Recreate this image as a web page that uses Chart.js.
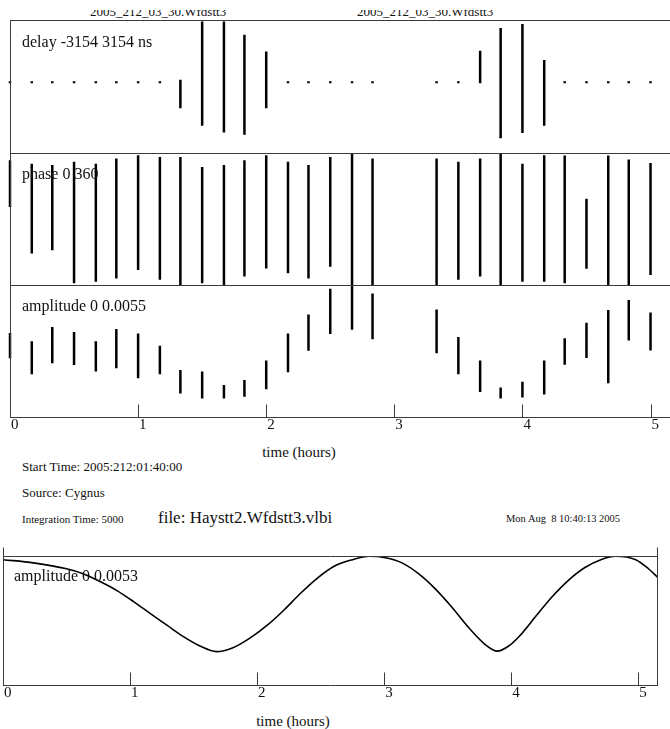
<!DOCTYPE html>
<html>
<head>
<meta charset="utf-8">
<title>Haystt2.Wfdstt3.vlbi</title>
<script src="https://cdn.jsdelivr.net/npm/chart.js@4.4.1/dist/chart.umd.min.js"></script>
<style>
  html, body { margin: 0; padding: 0; background: #fff; }
  body { position: relative; width: 670px; height: 729px; overflow: hidden;
         font-family: "Liberation Serif", "DejaVu Serif", serif; color: #111; }
  canvas { position: absolute; }
  .txt { position: absolute; white-space: pre; line-height: 1; }
  .mid { transform: translateX(-50%); }
  .clipTop { position: absolute; left: 0; top: 10px; width: 670px; height: 10px; overflow: hidden; }
</style>
</head>
<body>

<div class="clipTop">
  <div class="txt" style="left:90px; top:-5px; font-size:13px;">2005_212_03_30.Wfdstt3</div>
  <div class="txt" style="left:357px; top:-5px; font-size:13px;">2005_212_03_30.Wfdstt3</div>
</div>

<canvas id="delayChart" width="663" height="133" style="left:7px; top:20px;"></canvas>
<canvas id="phaseChart" width="663" height="132" style="left:7px; top:153px;"></canvas>
<canvas id="ampChart" width="663" height="155" style="left:7px; top:285px;"></canvas>
<canvas id="modelChart" width="655" height="162" style="left:3px; top:546px;"></canvas>

<div class="txt" style="left:22px; top:34px; font-size:16px;">delay -3154 3154 ns</div>
<div class="txt" style="left:22px; top:166px; font-size:16px;">phase 0 360</div>
<div class="txt" style="left:22px; top:298px; font-size:16px;">amplitude 0 0.0055</div>
<div class="txt mid" style="left:299px; top:445px; font-size:15px;">time (hours)</div>

<div class="txt" style="left:22px; top:460px; font-size:13px;">Start Time: 2005:212:01:40:00</div>
<div class="txt" style="left:22px; top:486px; font-size:13px;">Source: Cygnus</div>
<div class="txt" style="left:22px; top:514px; font-size:11px;">Integration Time: 5000</div>
<div class="txt" style="left:158px; top:509px; font-size:17px;">file: Haystt2.Wfdstt3.vlbi</div>
<div class="txt" style="left:506px; top:514px; font-size:10.5px;">Mon Aug  8 10:40:13 2005</div>

<div class="txt" style="left:14px; top:568px; font-size:16px;">amplitude 0 0.0053</div>
<div class="txt mid" style="left:293px; top:714px; font-size:15px;">time (hours)</div>

<script>
// scan start times (hours from 2005:212:01:40:00), one scan every 10 min
const scanHours = [0.00, 0.17, 0.33, 0.50, 0.67, 0.83, 1.00, 1.17, 1.33, 1.50,
                   1.67, 1.83, 2.00, 2.17, 2.33, 2.50, 2.67, 2.83,
                   3.33, 3.50, 3.67, 3.83, 4.00, 4.17, 4.33, 4.50, 4.67, 4.83, 5.00];

// delay spread within each scan (ns)
const delayLow  = [150, 150, 150, 150, 150, 150, 150, 150, -1030, -1860,
                   -2180, -2290, -1030, 150, 150, 150, 150, 150,
                   150, 150, 160, -2450, -2210, -1860, 150, 150, 150, 150, 150];
const delayHigh = [250, 250, 250, 250, 250, 250, 250, 250, 320, 3080,
                   3080, 2450, 1660, 250, 250, 250, 250, 250,
                   250, 250, 1700, 2770, 2970, 1260, 250, 250, 250, 250, 250];

// phase spread within each scan (deg)
const phaseLow  = [213, 86, 95, 5, 9, 18, 41, 14, 0, 5,
                   0, 23, 45, 32, 18, 50, 0, 0,
                   0, 14, 23, 0, 9, 9, 5, 44, 0, 0, 27];
const phaseHigh = [340, 331, 327, 336, 331, 345, 354, 349, 349, 322,
                   327, 340, 354, 336, 327, 349, 360, 345,
                   345, 336, 345, 360, 331, 354, 353, 235, 353, 342, 333];

// amplitude spread within each scan
const ampLow  = [0.00247, 0.00181, 0.00226, 0.00219, 0.00192, 0.00206, 0.00164, 0.00181, 0.00101, 0.00081,
                 0.00081, 0.00088, 0.00119, 0.00189, 0.00278, 0.00347, 0.00365, 0.00326,
                 0.00268, 0.00181, 0.00108, 0.00081, 0.00085, 0.00097, 0.00220, 0.00248, 0.00144, 0.00320, 0.00279];
const ampHigh = [0.00351, 0.00317, 0.00376, 0.00356, 0.00317, 0.00368, 0.00349, 0.00299, 0.00199, 0.00192,
                 0.00136, 0.00157, 0.00238, 0.00349, 0.00428, 0.00535, 0.00550, 0.00515,
                 0.00449, 0.00335, 0.00238, 0.00126, 0.00150, 0.00238, 0.00330, 0.00394, 0.00447, 0.00488, 0.00436];

// model amplitude curve (lower plot)
const modelHours = [0.00, 0.24, 0.50, 0.63, 0.76, 0.90, 1.03, 1.16, 1.29, 1.42,
                    1.55, 1.68, 1.81, 1.94, 2.08, 2.21, 2.34, 2.47, 2.61, 2.75,
                    2.88, 3.01, 3.14, 3.27, 3.40, 3.53, 3.66, 3.80, 3.89, 3.98,
                    4.06, 4.19, 4.32, 4.45, 4.58, 4.71, 4.82, 4.98, 5.08, 5.155];
const modelAmp = [0.00515, 0.00502, 0.00478, 0.00458, 0.00427, 0.00388, 0.00343, 0.00295, 0.00248, 0.00201,
                  0.00163, 0.00140, 0.00156, 0.00194, 0.00248, 0.00309, 0.00377, 0.00438, 0.00489, 0.00515,
                  0.00529, 0.00523, 0.00502, 0.00458, 0.00397, 0.00323, 0.00241, 0.00167, 0.00142, 0.00163,
                  0.00201, 0.00282, 0.00363, 0.00431, 0.00483, 0.00516, 0.00529, 0.00515, 0.00478, 0.00442];

const hourTicks = [0, 1, 2, 3, 4, 5];

// box lines + inward tick marks
const framePlugin = {
    id: 'frame',
    afterDraw(chart, args, opts) {
        const ctx = chart.ctx;
        const a = chart.chartArea;
        const L = Math.round(a.left) + 0.5;
        const R = Math.round(a.right) - 0.5;
        const T = Math.round(a.top) + 0.5;
        const B = Math.round(a.bottom) - 0.5;
        const rise = opts.rise || 0;
        ctx.save();
        ctx.strokeStyle = '#3a3a3a';
        ctx.lineWidth = 1;
        ctx.beginPath();
        if (opts.top) { ctx.moveTo(a.left, T); ctx.lineTo(a.right, T); }
        if (opts.left) { ctx.moveTo(L, T - rise); ctx.lineTo(L, a.bottom); }
        if (opts.right) { ctx.moveTo(R, T - rise); ctx.lineTo(R, a.bottom); }
        if (opts.bottom) { ctx.moveTo(a.left, B); ctx.lineTo(a.right, B); }
        if (opts.ticks) {
            const xs = chart.scales.x;
            hourTicks.forEach(v => {
                if (v === 0) return;
                const px = Math.round(xs.getPixelForValue(v)) + 0.5;
                ctx.moveTo(px, B);
                ctx.lineTo(px, B - 13);
            });
        }
        ctx.stroke();
        ctx.restore();
    }
};

function xAxis(maxHour, show) {
    const axis = {
        type: 'linear',
        min: 0,
        max: maxHour,
        display: show,
        grid: { display: false, drawTicks: false },
        border: { display: false },
        afterBuildTicks: s => { s.ticks = hourTicks.map(v => ({ value: v })); },
        ticks: {
            align: 'start',
            labelOffset: 1,
            padding: -2,
            color: '#111',
            font: { family: 'Liberation Serif', size: 15 },
            callback: v => String(v)
        }
    };
    if (show) axis.afterFit = s => { s.height = 22; };
    return axis;
}

function scanChart(id, lo, hi, ymin, ymax, withAxis, frame) {
    const pts = [];
    scanHours.forEach((t, i) => {
        pts.push({ x: t, y: lo[i] }, { x: t, y: hi[i] }, { x: t, y: null });
    });
    return new Chart(document.getElementById(id), {
        type: 'line',
        data: {
            datasets: [{
                data: pts,
                borderColor: '#000',
                borderWidth: 2.5,
                borderCapStyle: 'butt',
                pointRadius: 0,
                spanGaps: false,
                tension: 0,
                clip: { left: 3, right: 0, top: 0, bottom: 0 }
            }]
        },
        options: {
            responsive: false,
            animation: false,
            events: [],
            layout: { padding: { left: 3 } },
            plugins: { legend: { display: false }, tooltip: { enabled: false }, frame: frame },
            scales: {
                x: xAxis(5.152, withAxis),
                y: { type: 'linear', min: ymin, max: ymax, display: false }
            }
        },
        plugins: [framePlugin]
    });
}

scanChart('delayChart', delayLow, delayHigh, -3154, 3154, false, { top: true, left: true });
scanChart('phaseChart', phaseLow, phaseHigh, 0, 360, false, { top: true, left: true });
scanChart('ampChart', ampLow, ampHigh, 0, 0.0055, true, { top: true, left: true, bottom: true, ticks: true });

new Chart(document.getElementById('modelChart'), {
    type: 'line',
    data: {
        datasets: [{
            data: modelHours.map((t, i) => ({ x: t, y: modelAmp[i] })),
            borderColor: '#000',
            borderWidth: 1.6,
            pointRadius: 0,
            cubicInterpolationMode: 'monotone'
        }]
    },
    options: {
        responsive: false,
        animation: false,
        events: [],
        layout: { padding: { top: 10 } },
        plugins: {
            legend: { display: false },
            tooltip: { enabled: false },
            frame: { top: true, left: true, right: true, bottom: true, ticks: true, rise: 9 }
        },
        scales: {
            x: xAxis(5.155, true),
            y: { type: 'linear', min: 0, max: 0.0053, display: false }
        }
    },
    plugins: [framePlugin]
});
</script>
</body>
</html>
